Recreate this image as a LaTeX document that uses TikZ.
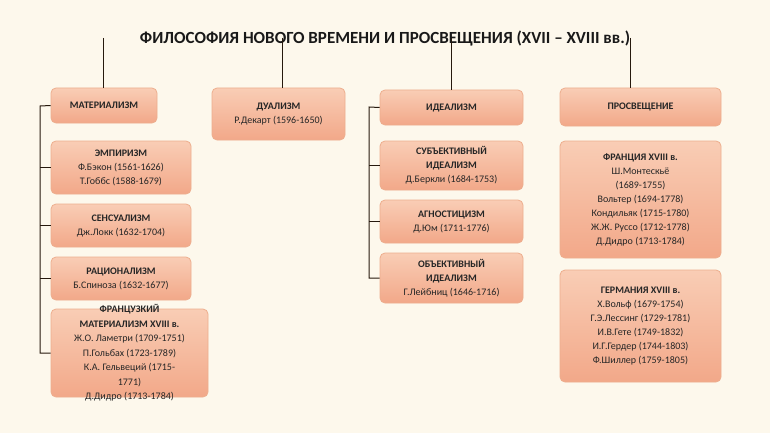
\documentclass[tikz,border=0pt]{standalone}
\usepackage{fontspec}
\setmainfont{Carlito}
\begin{document}
\begin{tikzpicture}[x=1pt,y=-1pt,
 box/.style={draw=boxedge,line width=0.8pt,rounded corners=5pt,top color=boxtop,bottom color=boxbot,
   align=center,font=\fontsize{10}{14}\selectfont,text=black!85,inner sep=1pt},
 ln/.style={draw=black!80!brown,line width=1pt}]
\definecolor{bg}{HTML}{FDF8EC}
\definecolor{boxedge}{HTML}{EDAE8E}
\definecolor{boxtop}{HTML}{F9CDB5}
\definecolor{boxbot}{HTML}{F2A889}
\fill[bg] (0,0) rectangle (770,433);
\useasboundingbox (0,0) rectangle (770,433);
\node[font=\bfseries\fontsize{17}{20}\selectfont,text=black!90] (t) at (385,38) {ФИЛОСОФИЯ НОВОГО ВРЕМЕНИ И ПРОСВЕЩЕНИЯ (XVII – XVIII вв.)};
\newcommand{\bx}[6]{\node[box,minimum width=#4-#2,minimum height=#5-#3] (#1) at ({(#2+#4)/2},{(#3+#5)/2}) {#6};}
\bx{mat}{51}{88}{157}{123}{\textbf{МАТЕРИАЛИЗМ}}
\bx{dua}{212}{88}{345}{140}{\textbf{ДУАЛИЗМ}\\Р.Декарт (1596-1650)}
\bx{ide}{380}{90}{523}{125}{\textbf{ИДЕАЛИЗМ}}
\bx{pro}{560}{88}{721}{126}{\textbf{ПРОСВЕЩЕНИЕ}}
\bx{emp}{51}{141}{191}{194}{\textbf{ЭМПИРИЗМ}\\Ф.Бэкон (1561-1626)\\Т.Гоббс (1588-1679)}
\bx{sen}{51}{204}{191}{247}{\textbf{СЕНСУАЛИЗМ}\\Дж.Локк (1632-1704)}
\bx{rac}{51}{257}{191}{300}{\textbf{РАЦИОНАЛИЗМ}\\Б.Спиноза (1632-1677)}
\bx{fr}{51}{309}{208}{397}{}
\node[align=center,font=\fontsize{10}{14.5}\selectfont,text=black!85] (frt) at (129.5,353) {\textbf{ФРАНЦУЗКИЙ}\\\textbf{МАТЕРИАЛИЗМ XVIII в.}\\Ж.О. Ламетри (1709-1751)\\П.Гольбах (1723-1789)\\К.А. Гельвеций (1715-\\1771)\\Д.Дидро (1713-1784)};
\bx{sub}{380}{141}{523}{190}{\textbf{СУБЪЕКТИВНЫЙ}\\\textbf{ИДЕАЛИЗМ}\\Д.Беркли (1684-1753)}
\bx{agn}{380}{200}{523}{243}{\textbf{АГНОСТИЦИЗМ}\\Д.Юм (1711-1776)}
\bx{obj}{380}{253}{523}{303}{\textbf{ОБЪЕКТИВНЫЙ}\\\textbf{ИДЕАЛИЗМ}\\Г.Лейбниц (1646-1716)}
\bx{fra}{560}{141}{721}{258}{\textbf{ФРАНЦИЯ XVIII в.}\\Ш.Монтескьё\\(1689-1755)\\Вольтер (1694-1778)\\Кондильяк (1715-1780)\\Ж.Ж. Руссо (1712-1778)\\Д.Дидро (1713-1784)}
\bx{ger}{560}{270}{721}{382}{\textbf{ГЕРМАНИЯ XVIII в.}\\Х.Вольф (1679-1754)\\Г.Э.Лессинг (1729-1781)\\И.В.Гете (1749-1832)\\И.Г.Гердер (1744-1803)\\Ф.Шиллер (1759-1805)}
% title connectors
\coordinate (c1) at (103,38); \coordinate (c2) at (282,38); \coordinate (c3) at (451,38); \coordinate (c4) at (630,38);
\draw[ln] (c1) -- (c1 |- mat.north);
\draw[ln] (c2) -- (c2 |- dua.north);
\draw[ln] (c3) -- (c3 |- ide.north);
\draw[ln] (c4) -- (c4 |- pro.north);
% brackets
\coordinate (l1) at (40,106); \coordinate (l2) at (40,353);
\draw[ln] (mat.west) -- (l1) -- (l2) -- (fr.west);
\draw[ln] (emp.west) -- (l1 |- emp.west);
\draw[ln] (sen.west) -- (l1 |- sen.west);
\draw[ln] (rac.west) -- (l1 |- rac.west);
\coordinate (r1) at (369,107); \coordinate (r2) at (369,278);
\draw[ln] (ide.west) -- (r1) -- (r2) -- (obj.west);
\draw[ln] (sub.west) -- (r1 |- sub.west);
\draw[ln] (agn.west) -- (r1 |- agn.west);
\end{tikzpicture}
\end{document}
